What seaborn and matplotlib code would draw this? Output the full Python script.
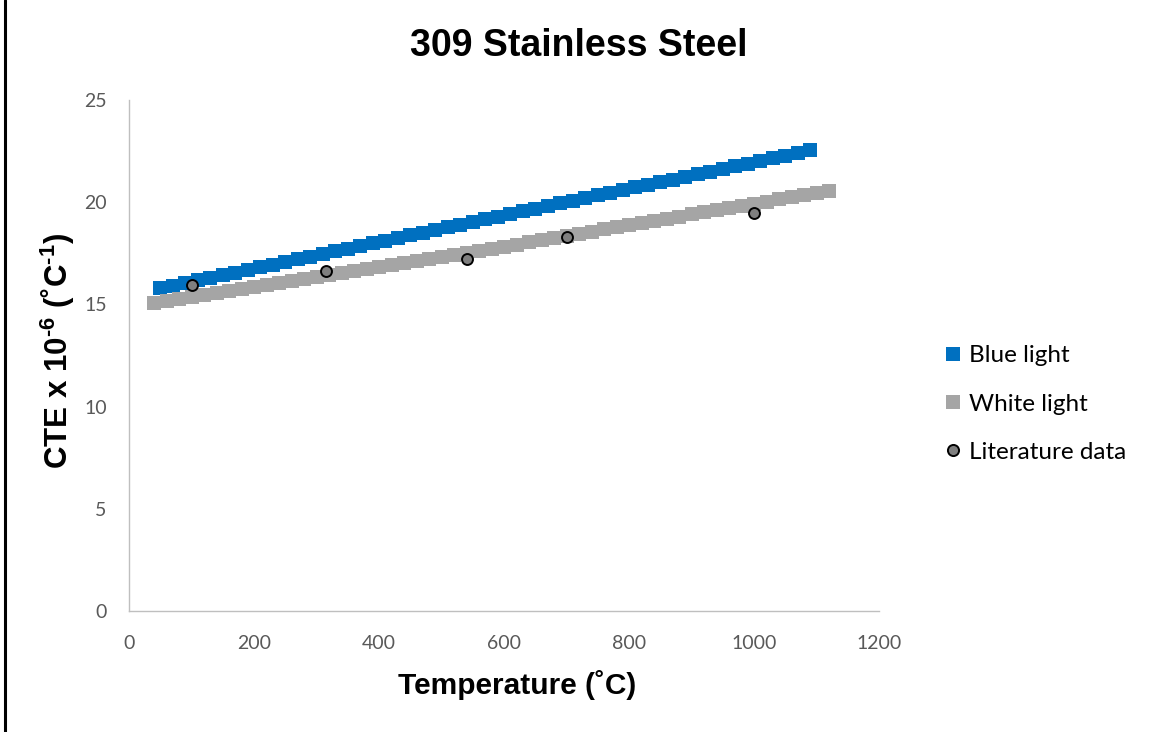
import matplotlib
matplotlib.use('Agg')
import matplotlib.pyplot as plt
import seaborn as sns
import pandas as pd
from matplotlib.lines import Line2D

# ---------------- data ----------------
blue_temp = [50, 70, 90, 110, 130, 150, 170, 190, 210, 230, 250, 270, 290, 310,
             330, 350, 370, 390, 410, 430, 450, 470, 490, 510, 530, 550, 570, 590,
             610, 630, 650, 670, 690, 710, 730, 750, 770, 790, 810, 830, 850, 870,
             890, 910, 930, 950, 970, 990, 1010, 1030, 1050, 1070, 1090]
blue_cte = [15.78, 15.91, 16.04, 16.17, 16.30, 16.43, 16.56, 16.69, 16.82, 16.95,
            17.08, 17.21, 17.34, 17.47, 17.60, 17.73, 17.86, 17.99, 18.12, 18.25,
            18.38, 18.51, 18.64, 18.77, 18.90, 19.03, 19.16, 19.29, 19.42, 19.55,
            19.68, 19.81, 19.94, 20.07, 20.20, 20.33, 20.46, 20.59, 20.72, 20.85,
            20.98, 21.11, 21.24, 21.37, 21.50, 21.63, 21.76, 21.89, 22.02, 22.15,
            22.28, 22.41, 22.54]

white_temp = [40, 60, 80, 100, 120, 140, 160, 180, 200, 220, 240, 260, 280, 300,
              320, 340, 360, 380, 400, 420, 440, 460, 480, 500, 520, 540, 560, 580,
              600, 620, 640, 660, 680, 700, 720, 740, 760, 780, 800, 820, 840, 860,
              880, 900, 920, 940, 960, 980, 1000, 1020, 1040, 1060, 1080, 1100, 1120]
white_cte = [15.08, 15.18, 15.27, 15.37, 15.47, 15.56, 15.66, 15.76, 15.85, 15.95,
             16.05, 16.14, 16.24, 16.34, 16.43, 16.53, 16.63, 16.72, 16.82, 16.92,
             17.01, 17.11, 17.20, 17.30, 17.41, 17.51, 17.62, 17.72, 17.83, 17.93,
             18.04, 18.14, 18.25, 18.35, 18.46, 18.56, 18.67, 18.77, 18.88, 18.98,
             19.09, 19.19, 19.30, 19.40, 19.51, 19.61, 19.72, 19.82, 19.93, 20.03,
             20.14, 20.24, 20.35, 20.45, 20.56]

lit_temp = [100, 315, 540, 700, 1000]
lit_cte = [15.95, 16.63, 17.22, 18.30, 19.47]

series_labels = ["Blue light", "White light", "Literature data"]
x_ticks = [0, 200, 400, 600, 800, 1000, 1200]
y_ticks = [0, 5, 10, 15, 20, 25]

title = "309 Stainless Steel"
x_label = "Temperature (˚C)"
y_label = r"CTE x 10$^{\mathbf{\text{-}6}}$ (˚C$^{\mathbf{\text{-}1}}$)"

# ---------------- style ----------------
sns.set_theme(style="white")
plt.rcParams['font.family'] = ['Lato', 'DejaVu Sans']
plt.rcParams['mathtext.fontset'] = 'custom'
plt.rcParams['mathtext.rm'] = 'Liberation Sans:bold'
plt.rcParams['mathtext.bf'] = 'Liberation Sans:bold'

BLUE = '#0070C0'
GRAY = '#A5A5A5'
LIT = '#7F7F7F'

W, H = 1151, 732
fig = plt.figure(figsize=(W / 100, H / 100), dpi=100)
ax = fig.add_axes([129 / W, 1 - 611 / H, (879 - 129) / W, (611 - 100) / H])

df_b = pd.DataFrame({'T': blue_temp, 'CTE': blue_cte})
df_w = pd.DataFrame({'T': white_temp, 'CTE': white_cte})
df_l = pd.DataFrame({'T': lit_temp, 'CTE': lit_cte})

sns.scatterplot(data=df_b, x='T', y='CTE', marker='s', s=105, color=BLUE,
                linewidth=0, ax=ax, zorder=2, legend=False)
sns.scatterplot(data=df_w, x='T', y='CTE', marker='s', s=105, color=GRAY,
                linewidth=0, ax=ax, zorder=3, legend=False)
sns.scatterplot(data=df_l, x='T', y='CTE', marker='o', s=62, color=LIT,
                edgecolor='black', linewidth=1.4, ax=ax, zorder=4, legend=False)

ax.set_xlim(0, 1200)
ax.set_ylim(0, 25)
ax.set_xticks(x_ticks)
ax.set_yticks(y_ticks)
ax.set_xlabel('')
ax.set_ylabel('')
ax.grid(False)
for s in ['top', 'right']:
    ax.spines[s].set_visible(False)
for s in ['left', 'bottom']:
    ax.spines[s].set_color('#BFBFBF')
    ax.spines[s].set_linewidth(1.0)
ax.tick_params(axis='both', length=0, labelsize=14, labelcolor='#595959')
ax.tick_params(axis='y', pad=16)
ax.tick_params(axis='x', pad=17)

fig.text(579 / W, 1 - 46 / H, title, ha='center', va='center', fontsize=27,
         fontweight='bold', family='Liberation Sans', color='black')
fig.text(517 / W, 1 - 685 / H, x_label, ha='center', va='center', fontsize=21.5,
         fontweight='bold', family='Liberation Sans', color='black')
fig.text(58 / W, 1 - 351 / H, y_label, ha='center', va='center', fontsize=22.5,
         fontweight='bold', family='Liberation Sans', rotation=90, color='black')

handles = [
    Line2D([], [], linestyle='none', marker='s', markersize=9.4, color=BLUE, markeredgewidth=0),
    Line2D([], [], linestyle='none', marker='s', markersize=9.4, color=GRAY, markeredgewidth=0),
    Line2D([], [], linestyle='none', marker='o', markersize=8, markerfacecolor=LIT,
           markeredgecolor='black', markeredgewidth=1.4),
]
leg = fig.legend(handles, series_labels, loc='center left',
                 bbox_to_anchor=(934 / W, 1 - 404 / H), frameon=False, fontsize=17.5,
                 handlelength=0.6, handletextpad=0.35, labelspacing=1.12, borderpad=0)
for t in leg.get_texts():
    t.set_color('black')

# left border line
fig.add_artist(Line2D([5 / W, 5 / W], [0, 1], color='black', linewidth=2.2,
                      transform=fig.transFigure))

fig.savefig('out.png', dpi=100)
